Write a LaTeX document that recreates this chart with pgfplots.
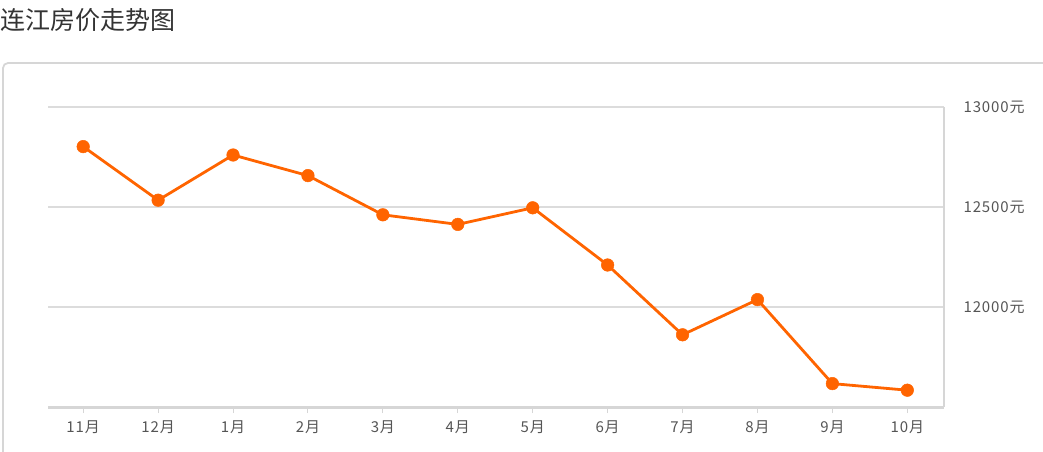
\documentclass[border=0pt]{standalone}
\usepackage{fontspec}
\setmainfont{Noto Sans CJK SC}
\usepackage{xcolor}
\usepackage{pgfplots}
\pgfplotsset{compat=1.18}

\definecolor{lineorange}{HTML}{FF6400}
\definecolor{gridgray}{HTML}{DCDCDC}
\definecolor{axisgray}{HTML}{D6D6D6}
\definecolor{labelgray}{HTML}{555555}
\definecolor{titlegray}{HTML}{333333}

\newfontfamily\labelfont[LetterSpace=6]{Noto Sans CJK SC}

\begin{document}
\begin{tikzpicture}
% page = 1043 x 451 px, 1pt per px
\path[use as bounding box] (0,0) rectangle (1043pt,451pt);

% outer panel border
\draw[axisgray, line width=1.8pt, rounded corners=5pt] (1050pt,388pt) -- (3pt,388pt) -- (3pt,-10pt);

% title
\node[anchor=west, text=titlegray, inner sep=0pt] at (0pt,431pt)
  {\fontsize{25}{30}\selectfont 连江房价走势图};

\begin{axis}[
    at={(48pt,44pt)}, anchor=south west,
    scale only axis,
    width=896pt, height=300pt,
    xmin=-0.47, xmax=11.49,
    ymin=11500, ymax=13000,
    scaled y ticks=false,
    axis x line*=bottom,
    axis y line*=right,
    x axis line style={-, axisgray, line width=3pt},
    y axis line style={-, axisgray, line width=1.5pt},
    xtick={0,...,11},
    xticklabels={11月,12月,1月,2月,3月,4月,5月,6月,7月,8月,9月,10月},
    ytick={12000,12500,13000},
    yticklabels={12000元,12500元,13000元},
    tick align=outside,
    major tick length=6pt,
    xtick style={axisgray, line width=1pt},
    ytick style={draw=none},
    ymajorgrids,
    grid style={gridgray, line width=1.2pt},
    xticklabel style={font=\labelfont\fontsize{15}{18}\selectfont, text=labelgray, yshift=-4pt},
    yticklabel style={font=\labelfont\fontsize{15}{18}\selectfont, text=labelgray, anchor=west, xshift=10pt},
    clip=false,
]
\addplot[lineorange, line width=2.8pt, mark=*, mark size=6.3pt,
         mark options={fill=lineorange, draw=lineorange, line width=0.5pt}]
coordinates {
    (0,12802) (1,12534) (2,12760) (3,12657) (4,12461) (5,12413)
    (6,12496) (7,12210) (8,11861) (9,12037) (10,11617) (11,11584)
};
\end{axis}
\end{tikzpicture}
\end{document}
